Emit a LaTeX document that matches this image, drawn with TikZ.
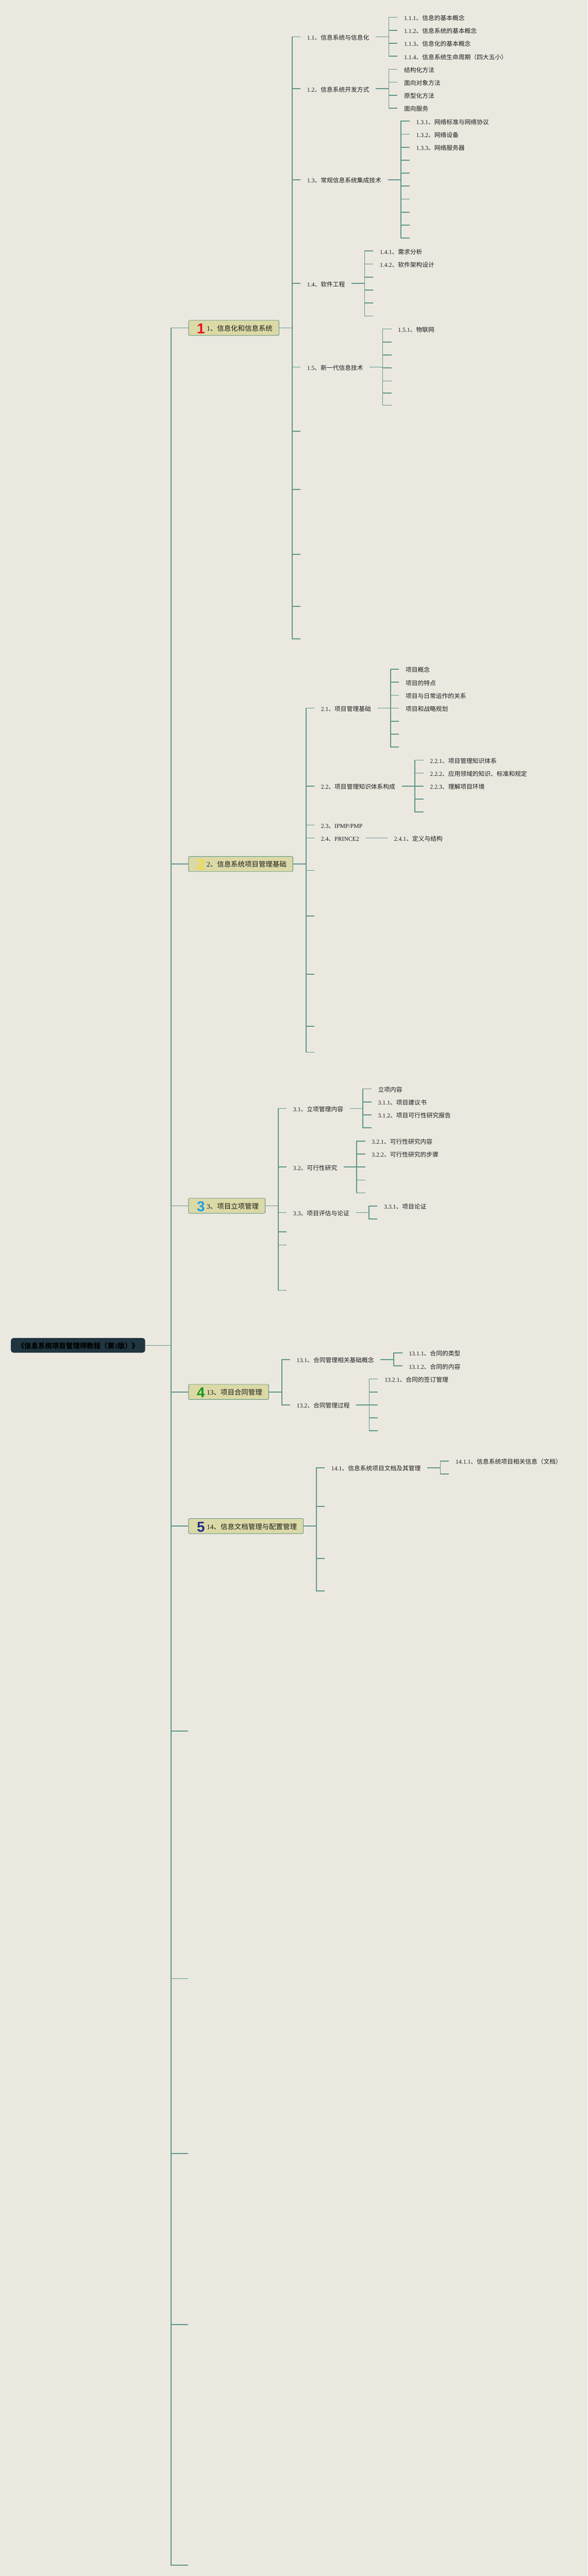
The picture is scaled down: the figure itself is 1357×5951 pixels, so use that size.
\documentclass[tikz,border=0pt]{standalone}
\usepackage{fontspec}
\setmainfont{Liberation Serif}
\newfontfamily\cjk{Noto Sans CJK SC}
\newfontfamily\numfont{Liberation Sans}
\definecolor{pagebg}{HTML}{EBE8E0}
\definecolor{limbcol}{HTML}{5C9688}
\definecolor{boxfill}{HTML}{DBD9A6}
\definecolor{rootfill}{HTML}{1F3540}
\definecolor{inkcol}{HTML}{1C1C1C}
\definecolor{numred}{HTML}{E0141E}
\definecolor{numyellow}{HTML}{F2DC40}
\definecolor{numblue}{HTML}{1E9FE0}
\definecolor{numgreen}{HTML}{149A1E}
\definecolor{numnavy}{HTML}{1E2E88}
\newcommand{\topnum}[2]{\makebox[27pt]{\raisebox{-6pt}{\numfont\fontsize{33}{33}\bfseries\selectfont\color{#1}#2}}}
\tikzset{
  limb/.style={color=limbcol,line width=2pt,to path={-- ++(#1,0) |- (\tikztotarget)}},
  limb/.default=30,
  leaf/.style={anchor=west,inner xsep=15pt,inner ysep=0pt,text=inkcol,
    font=\fontsize{14}{16}\selectfont,text height=16pt,text depth=2pt},
  topbox/.style={anchor=west,draw=limbcol,fill=boxfill,line width=1pt,rounded corners=2pt,
    inner xsep=15pt,inner ysep=0pt,text=inkcol,
    font=\fontsize{16}{18}\selectfont,text height=24.5pt,text depth=10.5pt},
  rootbox/.style={anchor=west,fill=rootfill,rounded corners=6pt,inner xsep=15pt,inner ysep=0pt,
    text=black,font=\fontsize{16}{18}\selectfont\bfseries,text height=24pt,text depth=10pt}
}
\begin{document}
\begin{tikzpicture}[x=1pt,y=-1pt]
\fill[pagebg] (0,0) rectangle (1357,5951);
\useasboundingbox (0,0) rectangle (1357,5951);

\node[rootbox] (root) at (25,3108) {{\cjk 《信息系统项目管理师教程（第}3{\cjk 版）》}};
\node[topbox] (n1) at (435,757.5) {\topnum{numred}{1}1{\cjk 、信息化和信息系统}};
\node[topbox] (n2) at (435,1996) {\topnum{numyellow}{2}2{\cjk 、信息系统项目管理基础}};
\node[topbox] (n3) at (435,2785.5) {\topnum{numblue}{3}3{\cjk 、项目立项管理}};
\node[topbox] (n4) at (435,3215.5) {\topnum{numgreen}{4}13{\cjk 、项目合同管理}};
\node[topbox] (n5) at (435,3525.5) {\topnum{numnavy}{5}14{\cjk 、信息文档管理与配置管理}};
\coordinate (t1) at (435,3999);
\coordinate (t2) at (435,4571);
\coordinate (t3) at (435,4975);
\coordinate (t4) at (435,5370);
\coordinate (t5) at (435,5926);

\node[leaf] (n11) at (694,85) {1.1{\cjk 、信息系统与信息化}};
\node[leaf] (n12) at (694,205) {1.2{\cjk 、信息系统开发方式}};
\node[leaf] (n13) at (694,415) {1.3{\cjk 、常规信息系统集成技术}};
\node[leaf] (n14) at (694,655) {1.4{\cjk 、软件工程}};
\node[leaf] (n15) at (694,848) {1.5{\cjk 、新一代信息技术}};
\coordinate (n16) at (694,996);
\coordinate (n17) at (694,1130.5);
\coordinate (n18) at (694,1281);
\coordinate (n19) at (694,1401);
\coordinate (n1a) at (694,1475.5);

\node[leaf] (n111) at (918,40) {1.1.1{\cjk 、信息的基本概念}};
\node[leaf] (n112) at (918,70) {1.1.2{\cjk 、信息系统的基本概念}};
\node[leaf] (n113) at (918,100) {1.1.3{\cjk 、信息化的基本概念}};
\node[leaf] (n114) at (918,130) {1.1.4{\cjk 、信息系统生命周期（四大五小）}};
\node[leaf] (n121) at (918,160) {\cjk 结构化方法};
\node[leaf] (n122) at (918,190) {\cjk 面向对象方法};
\node[leaf] (n123) at (918,220) {\cjk 原型化方法};
\node[leaf] (n124) at (918,250) {\cjk 面向服务};
\node[leaf] (n131) at (946,280) {1.3.1{\cjk 、网络标准与网络协议}};
\node[leaf] (n132) at (946,310) {1.3.2{\cjk 、网络设备}};
\node[leaf] (n133) at (946,340) {1.3.3{\cjk 、网络服务器}};
\coordinate (n134) at (946,370);
\coordinate (n135) at (946,400);
\coordinate (n136) at (946,430);
\coordinate (n137) at (946,460);
\coordinate (n138) at (946,490);
\coordinate (n139) at (946,520);
\coordinate (n13a) at (946,550);
\node[leaf] (n141) at (862,580) {1.4.1{\cjk 、需求分析}};
\node[leaf] (n142) at (862,610) {1.4.2{\cjk 、软件架构设计}};
\coordinate (n143) at (862,640);
\coordinate (n144) at (862,670);
\coordinate (n145) at (862,700);
\coordinate (n146) at (862,730);
\node[leaf] (n151) at (904,760) {1.5.1{\cjk 、物联网}};
\coordinate (n152) at (904,790);
\coordinate (n153) at (904,820);
\coordinate (n154) at (904,850);
\coordinate (n155) at (904,880);
\coordinate (n156) at (904,908);
\coordinate (n157) at (904,936);

\node[leaf] (n21) at (726,1636) {2.1{\cjk 、项目管理基础}};
\node[leaf] (n22) at (726,1816) {2.2{\cjk 、项目管理知识体系构成}};
\node[leaf] (n23) at (726,1906) {2.3{\cjk 、}IPMP/PMP};
\node[leaf] (n24) at (726,1936) {2.4{\cjk 、}PRINCE2};
\coordinate (n25) at (726,2011);
\coordinate (n26) at (726,2116);
\coordinate (n27) at (726,2251);
\coordinate (n28) at (726,2371);
\coordinate (n29) at (726,2431);

\node[leaf] (n211) at (921.5,1546) {\cjk 项目概念};
\node[leaf] (n212) at (921.5,1576) {\cjk 项目的特点};
\node[leaf] (n213) at (921.5,1606) {\cjk 项目与日常运作的关系};
\node[leaf] (n214) at (921.5,1636) {\cjk 项目和战略规划};
\coordinate (n215) at (921.5,1666);
\coordinate (n216) at (921.5,1696);
\coordinate (n217) at (921.5,1726);
\node[leaf] (n221) at (978,1756) {2.2.1{\cjk 、项目管理知识体系}};
\node[leaf] (n222) at (978,1786) {2.2.2{\cjk 、应用领域的知识、标准和规定}};
\node[leaf] (n223) at (978,1816) {2.2.3{\cjk 、理解项目环境}};
\coordinate (n224) at (978,1846);
\coordinate (n225) at (978,1876);
\node[leaf] (n241) at (895,1936) {2.4.1{\cjk 、定义与结构}};

\node[leaf] (n31) at (662,2560.5) {3.1{\cjk 、立项管理内容}};
\node[leaf] (n32) at (662,2696) {3.2{\cjk 、可行性研究}};
\node[leaf] (n33) at (662,2801) {3.3{\cjk 、项目评估与论证}};
\coordinate (n34) at (662,2846);
\coordinate (n35) at (662,2876);
\coordinate (n36) at (662,2981);

\node[leaf] (n311) at (858,2515.5) {\cjk 立项内容};
\node[leaf] (n312) at (858,2545.5) {3.1.1{\cjk 、项目建议书}};
\node[leaf] (n313) at (858,2575.5) {3.1.2{\cjk 、项目可行性研究报告}};
\coordinate (n314) at (858,2605.5);
\node[leaf] (n321) at (843.5,2636) {3.2.1{\cjk 、可行性研究内容}};
\node[leaf] (n322) at (843.5,2666) {3.2.2{\cjk 、可行性研究的步骤}};
\coordinate (n323) at (843.5,2696);
\coordinate (n324) at (843.5,2726);
\coordinate (n325) at (843.5,2756);
\node[leaf] (n331) at (871.5,2786) {3.3.1{\cjk 、项目论证}};
\coordinate (n332) at (871.5,2816);

\node[leaf] (n41) at (670,3140.5) {13.1{\cjk 、合同管理相关基础概念}};
\node[leaf] (n42) at (670,3245.5) {13.2{\cjk 、合同管理过程}};
\node[leaf] (n411) at (929,3125.5) {13.1.1{\cjk 、合同的类型}};
\node[leaf] (n412) at (929,3155.5) {13.1.2{\cjk 、合同的内容}};
\node[leaf] (n421) at (873,3185.5) {13.2.1{\cjk 、合同的签订管理}};
\coordinate (n422) at (873,3215.5);
\coordinate (n423) at (873,3245.5);
\coordinate (n424) at (873,3275.5);
\coordinate (n425) at (873,3305.5);

\node[leaf] (n51) at (750,3390.5) {14.1{\cjk 、信息系统项目文档及其管理}};
\coordinate (n52) at (750,3480.5);
\coordinate (n53) at (750,3600.5);
\coordinate (n54) at (750,3675.5);
\node[leaf] (n511) at (1037,3375.5) {14.1.1{\cjk 、信息系统项目相关信息（文档）}};
\coordinate (n512) at (1037,3405.5);

\draw[limb=60] (root.east) to (n1.west) (root.east) to (n2.west) (root.east) to (n3.west)
  (root.east) to (n4.west) (root.east) to (n5.west) (root.east) to (t1) (root.east) to (t2)
  (root.east) to (t3) (root.east) to (t4) (root.east) to (t5);
\draw[limb] (n1.east) to (n11.west) (n1.east) to (n12.west) (n1.east) to (n13.west)
  (n1.east) to (n14.west) (n1.east) to (n15.west) (n1.east) to (n16) (n1.east) to (n17)
  (n1.east) to (n18) (n1.east) to (n19) (n1.east) to (n1a);
\draw[limb] (n11.east) to (n111.west) (n11.east) to (n112.west) (n11.east) to (n113.west) (n11.east) to (n114.west);
\draw[limb] (n12.east) to (n121.west) (n12.east) to (n122.west) (n12.east) to (n123.west) (n12.east) to (n124.west);
\draw[limb] (n13.east) to (n131.west) (n13.east) to (n132.west) (n13.east) to (n133.west) (n13.east) to (n134)
  (n13.east) to (n135) (n13.east) to (n136) (n13.east) to (n137) (n13.east) to (n138) (n13.east) to (n139) (n13.east) to (n13a);
\draw[limb] (n14.east) to (n141.west) (n14.east) to (n142.west) (n14.east) to (n143) (n14.east) to (n144)
  (n14.east) to (n145) (n14.east) to (n146);
\draw[limb] (n15.east) to (n151.west) (n15.east) to (n152) (n15.east) to (n153) (n15.east) to (n154)
  (n15.east) to (n155) (n15.east) to (n156) (n15.east) to (n157);
\draw[limb] (n2.east) to (n21.west) (n2.east) to (n22.west) (n2.east) to (n23.west) (n2.east) to (n24.west)
  (n2.east) to (n25) (n2.east) to (n26) (n2.east) to (n27) (n2.east) to (n28) (n2.east) to (n29);
\draw[limb] (n21.east) to (n211.west) (n21.east) to (n212.west) (n21.east) to (n213.west) (n21.east) to (n214.west)
  (n21.east) to (n215) (n21.east) to (n216) (n21.east) to (n217);
\draw[limb] (n22.east) to (n221.west) (n22.east) to (n222.west) (n22.east) to (n223.west) (n22.east) to (n224) (n22.east) to (n225);
\draw[limb] (n24.east) to (n241.west);
\draw[limb] (n3.east) to (n31.west) (n3.east) to (n32.west) (n3.east) to (n33.west) (n3.east) to (n34) (n3.east) to (n35) (n3.east) to (n36);
\draw[limb] (n31.east) to (n311.west) (n31.east) to (n312.west) (n31.east) to (n313.west) (n31.east) to (n314);
\draw[limb] (n32.east) to (n321.west) (n32.east) to (n322.west) (n32.east) to (n323) (n32.east) to (n324) (n32.east) to (n325);
\draw[limb] (n33.east) to (n331.west) (n33.east) to (n332);
\draw[limb] (n4.east) to (n41.west) (n4.east) to (n42.west);
\draw[limb] (n41.east) to (n411.west) (n41.east) to (n412.west);
\draw[limb] (n42.east) to (n421.west) (n42.east) to (n422) (n42.east) to (n423) (n42.east) to (n424) (n42.east) to (n425);
\draw[limb] (n5.east) to (n51.west) (n5.east) to (n52) (n5.east) to (n53) (n5.east) to (n54);
\draw[limb] (n51.east) to (n511.west) (n51.east) to (n512);
\end{tikzpicture}
\end{document}
